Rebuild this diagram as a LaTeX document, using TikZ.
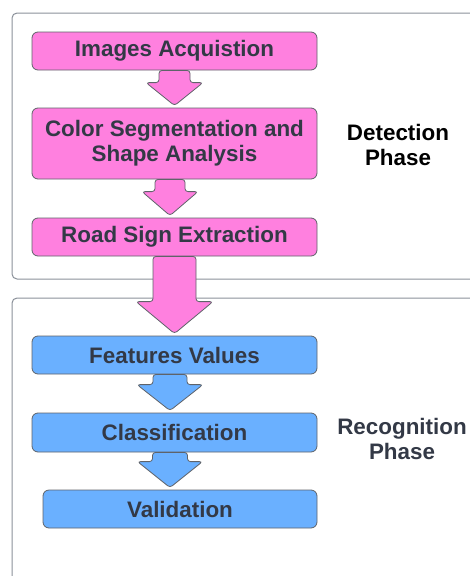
\documentclass[tikz,border=0pt]{standalone}
\usepackage{fontspec}
\setmainfont{Liberation Sans}
\definecolor{signpink}{RGB}{255,128,223}
\definecolor{signblue}{RGB}{106,176,255}
\definecolor{boxedge}{RGB}{95,99,105}
\definecolor{frameedge}{RGB}{138,144,153}
\definecolor{inktext}{RGB}{51,57,70}
\usetikzlibrary{calc}

\tikzset{
  stagebox/.style={draw=boxedge, line width=0.8pt, rounded corners=6pt,
    minimum width=285pt, minimum height=38pt, align=center, text=inktext,
    font=\bfseries\fontsize{22.4}{25}\selectfont},
  phaseframe/.style={draw=frameedge, line width=1pt, rounded corners=5pt},
  phaselabel/.style={align=center, font=\bfseries\fontsize{22.4}{25}\selectfont},
  flowarrow/.style={draw=boxedge, line width=0.8pt, rounded corners=3pt}
}

% block arrow: fill, start, end node, shaft half width, head half width, head length
\newcommand{\flowarrow}[6]{%
  \draw[flowarrow, fill=#1] let \p1=(#2), \p2=(#3) in
    (\x1-#4,\y1) -- (\x1+#4,\y1) -- (\x1+#4,\y2+#6) -- (\x1+#5,\y2+#6)
    -- (\x1,\y2+2pt) -- (\x1-#5,\y2+#6) -- (\x1-#4,\y2+#6) -- cycle;}

\begin{document}
\begin{tikzpicture}[x=1pt, y=-1pt]
  \useasboundingbox (0,0) rectangle (470,576);
  \clip (0,0) rectangle (470,576);

  % the two phases
  \draw[phaseframe] (12,13) rectangle (490,279);
  \draw[phaseframe] (12,298) rectangle (490,600);

  % detection
  \node[stagebox, fill=signpink] (acq) at (174.5,51) {Images Acquistion};
  \node[stagebox, fill=signpink, minimum height=71pt] (seg) at (174.5,143.5)
    {Color Segmentation and\\Shape Analysis};
  \node[stagebox, fill=signpink] (ext) at (174.5,237) {Road Sign Extraction};
  \node[phaselabel] (detect) at (398,145) {Detection\\Phase};

  % recognition
  \node[stagebox, fill=signblue] (feat) at (174.5,355) {Features Values};
  \node[stagebox, fill=signblue, minimum height=39pt] (cls) at (174.5,432.5) {Classification};
  \node[stagebox, fill=signblue, minimum width=274pt] (val) at (180,509) {Validation};
  \node[phaselabel, text=inktext] (recog) at (402,439) {Recognition\\Phase};

  \flowarrow{signpink}{acq.south}{seg.north}{15.5pt}{28.5pt}{25pt}
  \flowarrow{signpink}{$(seg.south)+(-4.5,0)$}{ext.north}{15pt}{28pt}{26pt}
  \flowarrow{signpink}{ext.south}{feat.north}{21.5pt}{38.5pt}{34pt}
  \flowarrow{signblue}{$(feat.south)+(-4.5,0)$}{cls.north}{17pt}{33pt}{28pt}
  \flowarrow{signblue}{$(cls.south)+(-4.5,0)$}{val.north}{17.5pt}{32.5pt}{28pt}
\end{tikzpicture}
\end{document}
